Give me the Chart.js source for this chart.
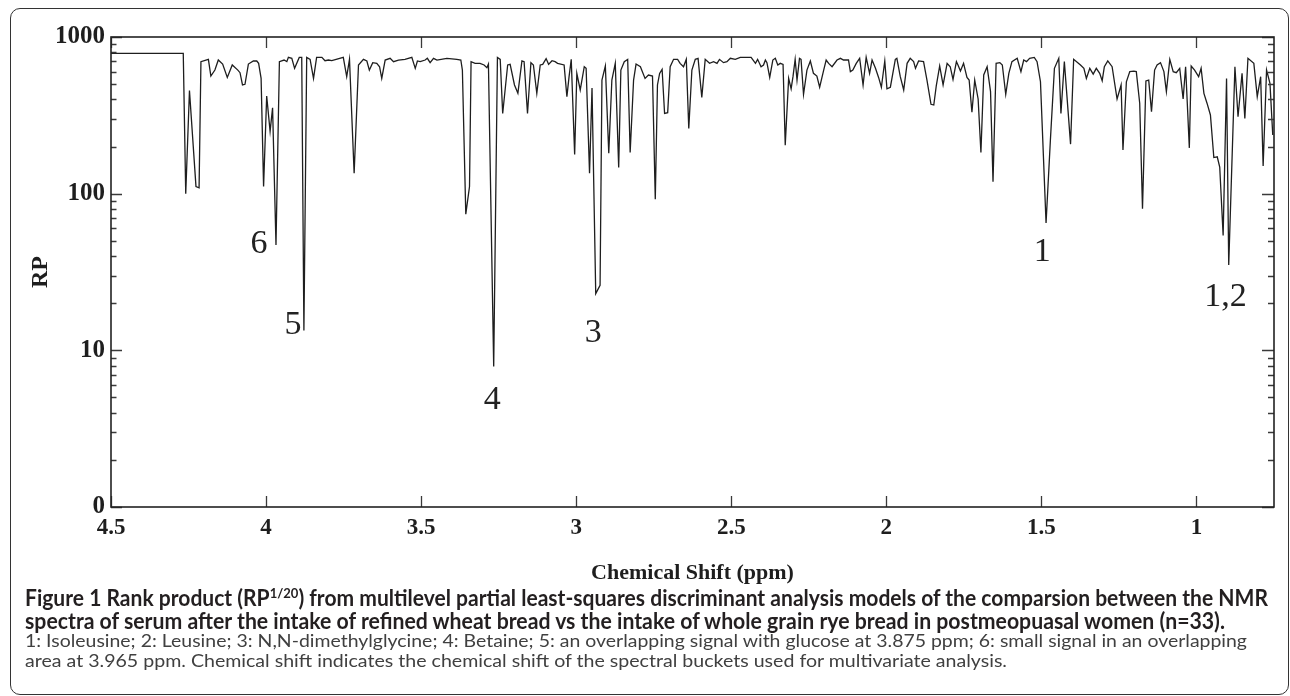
<!DOCTYPE html>
<html>
<head>
<meta charset="utf-8">
<script src="https://cdn.jsdelivr.net/npm/chart.js@4/dist/chart.umd.min.js"></script>
<style>
    html, body { margin: 0; padding: 0; background: #fff; }
    #fig { position: relative; width: 1290px; height: 696px; overflow: hidden; }
    #frame {
        position: absolute; left: 10px; top: 8px; width: 1279px; height: 687px;
        border: 1.5px solid #333; border-radius: 10px; box-sizing: border-box;
    }
    #wrap { position: absolute; left: 0; top: 0; width: 1290px; height: 590px; }
    .cap {
        position: absolute; left: 25px; white-space: nowrap; transform-origin: 0 0;
        font-family: Lato, "Open Sans", sans-serif;
    }
    .b { font-weight: bold; font-size: 22px; line-height: 1.2; color: #231f20; }
    .r { font-size: 18px; line-height: 1.2; color: #404040; }
    sup { font-size: 0.62em; vertical-align: 0.62em; line-height: 0; }
</style>
</head>
<body>
<div id="fig">
    <div id="frame"></div>
    <div id="wrap"><canvas id="chart" width="1290" height="590"></canvas></div>
    <div class="cap b" style="top:585px" data-w="1243"><span>Figure 1</span> Rank product (RP<sup>1/20</sup>) from multilevel partial least-squares discriminant analysis models of the comparsion between the NMR</div>
    <div class="cap b" style="top:608px" data-w="1200">spectra of serum after the intake of refined wheat bread vs the intake of whole grain rye bread in postmeopuasal women (n=33).</div>
    <div class="cap r" style="top:630px" data-w="1222">1: Isoleusine; 2: Leusine; 3: N,N-dimethylglycine; 4: Betaine; 5: an overlapping signal with glucose at 3.875 ppm; 6: small signal in an overlapping</div>
    <div class="cap r" style="top:650px" data-w="982">area at 3.965 ppm. Chemical shift indicates the chemical shift of the spectral buckets used for multivariate analysis.</div>
</div>
<script>
// chemical shift of each traced vertex (ppm), high to low
const ppm = [
    4.500, 4.267, 4.259, 4.247, 4.226, 4.216, 4.210, 4.186, 4.178, 4.165,
    4.154, 4.140, 4.125, 4.109, 4.091, 4.084, 4.076, 4.068, 4.057, 4.041,
    4.030, 4.024, 4.016, 4.008, 3.998, 3.987, 3.979, 3.968, 3.957, 3.942,
    3.933, 3.928, 3.917, 3.908, 3.893, 3.885, 3.878, 3.869, 3.858, 3.847,
    3.837, 3.820, 3.810, 3.799, 3.788, 3.751, 3.740, 3.731, 3.716, 3.702,
    3.686, 3.675, 3.667, 3.656, 3.643, 3.634, 3.627, 3.616, 3.600, 3.589,
    3.573, 3.552, 3.530, 3.519, 3.512,
    3.503, 3.487, 3.480, 3.471, 3.460, 3.449, 3.417, 3.385, 3.372, 3.367,
    3.356, 3.344, 3.339, 3.326, 3.310, 3.297, 3.288, 3.283, 3.266, 3.254,
    3.245, 3.237, 3.221, 3.213, 3.199, 3.188, 3.175, 3.168, 3.157, 3.146,
    3.138, 3.127, 3.116, 3.108, 3.097, 3.089, 3.078, 3.068, 3.060, 3.039,
    3.030, 3.023, 3.016, 3.005, 2.998, 2.987, 2.974, 2.968, 2.957, 2.949,
    2.937, 2.923, 2.917, 2.906, 2.895, 2.885, 2.874, 2.863, 2.856, 2.845,
    2.834, 2.826, 2.815, 2.807, 2.793, 2.778, 2.767, 2.754, 2.745, 2.738,
    2.731, 2.723, 2.715, 2.705, 2.697, 2.686, 2.673, 2.665, 2.654, 2.645,
    2.637, 2.627, 2.616, 2.607, 2.595, 2.584, 2.570, 2.557, 2.546, 2.538,
    2.525, 2.514, 2.503, 2.487, 2.471, 2.436, 2.422, 2.415, 2.404, 2.396,
    2.390, 2.385, 2.376, 2.366, 2.358, 2.350, 2.342, 2.333, 2.326, 2.315,
    2.307, 2.301, 2.294, 2.288, 2.280, 2.275, 2.267, 2.256, 2.245, 2.235,
    2.224, 2.215, 2.202, 2.194, 2.186, 2.175, 2.159, 2.148, 2.138, 2.122,
    2.116, 2.108, 2.097, 2.086, 2.075, 2.065, 2.054, 2.046, 2.035, 2.025,
    2.016, 2.005, 1.998, 1.987, 1.971, 1.966, 1.955, 1.944, 1.933, 1.923,
    1.912, 1.906, 1.896, 1.880, 1.869, 1.856, 1.847, 1.839, 1.828, 1.817,
    1.804, 1.794, 1.785, 1.774, 1.769, 1.761, 1.751, 1.740, 1.733, 1.724,
    1.715, 1.704, 1.695, 1.686, 1.675, 1.664, 1.656, 1.646, 1.634, 1.626,
    1.615, 1.605, 1.595, 1.578, 1.566, 1.557, 1.548, 1.538, 1.523, 1.514,
    1.503, 1.485, 1.471, 1.458, 1.444, 1.437, 1.426, 1.406, 1.396, 1.374,
    1.363, 1.355, 1.344, 1.333, 1.323, 1.312, 1.304, 1.297, 1.286, 1.272,
    1.256, 1.243, 1.237, 1.226, 1.215, 1.202, 1.194, 1.183, 1.174, 1.163,
    1.154, 1.145, 1.135, 1.127, 1.116, 1.105, 1.097, 1.086, 1.075, 1.065,
    1.054, 1.043, 1.035, 1.023, 1.017, 1.006, 0.993, 0.985, 0.976, 0.966,
    0.955, 0.944, 0.933, 0.925, 0.914, 0.903, 0.896, 0.876, 0.866, 0.853,
    0.844, 0.834, 0.815, 0.804, 0.793, 0.785, 0.774, 0.763, 0.754
];

// rank product at each vertex
const rp = [
    786, 786, 100, 455, 111, 109, 696, 720, 563, 615,
    713, 672, 552, 663, 615, 592, 494, 499, 672, 703,
    703, 679, 544, 111, 420, 250, 353, 47, 696, 713,
    696, 741, 731, 631, 741, 741, 13.4, 741, 720, 544,
    741, 741, 706, 713, 706, 741, 558, 720, 135, 663,
    720, 703, 615, 686, 679, 646, 544, 713, 731, 696,
    713, 720, 741, 631, 703,
    696, 713, 731, 686, 731, 713, 731, 720, 713, 615,
    74, 111, 696, 679, 679, 663, 637, 672, 7.9, 741,
    720, 325, 663, 669, 494, 437, 703, 696, 325, 686,
    663, 437, 663, 669, 728, 669, 706, 696, 679, 663,
    416, 558, 720, 178, 586, 459, 646, 631, 135, 472,
    23, 26, 531, 653, 181, 531, 679, 147, 615, 696,
    720, 183, 531, 672, 646, 544, 572, 563, 92, 494,
    586, 622, 325, 329, 646, 720, 720, 679, 646, 720,
    261, 615, 720, 731, 412, 720, 679, 696, 679, 720,
    686, 696, 731, 720, 741, 741, 679, 720, 646, 663,
    713, 686, 552, 713, 731, 663, 679, 669, 204, 544,
    467, 558, 720, 531, 731, 720, 431, 615, 703, 586,
    563, 478, 615, 713, 679, 646, 713, 731, 713, 713,
    601, 615, 679, 731, 494, 741, 586, 713, 631, 552,
    478, 703, 467, 478, 720, 731, 558, 459, 679, 731,
    696, 631, 703, 696, 531, 372, 368, 487, 653, 494,
    679, 646, 536, 696, 663, 606, 679, 552, 531, 331,
    531, 402, 183, 572, 646, 448, 119, 679, 686, 663,
    431, 586, 696, 731, 601, 713, 696, 731, 741, 696,
    518, 65, 220, 631, 731, 325, 696, 207, 720, 663,
    631, 544, 631, 580, 631, 586, 526, 646, 703, 646,
    402, 494, 190, 518, 601, 606, 601, 378, 80, 524,
    531, 334, 615, 663, 686, 601, 448, 720, 601, 592,
    631, 402, 646, 196, 653, 615, 558, 631, 437, 378,
    318, 170, 172, 148, 54, 544, 35, 646, 310, 586,
    302, 731, 679, 416, 558, 150, 615, 506, 237
];

const xTicks = [4.5, 4, 3.5, 3, 2.5, 2, 1.5, 1];
const yTicks = [1, 10, 100, 1000];
const yMinorTicks = [2, 3, 4, 5, 6, 7, 8, 9, 20, 30, 40, 50, 60, 70, 80, 90, 200, 300, 400, 500, 600, 700, 800, 900];

// peak annotations
const peakLabels = ['6', '5', '4', '3', '1', '1,2'];
const peakPpm = [4.023, 3.913, 3.271, 2.945, 1.497, 0.906];
const peakRp = [47.6, 14.5, 4.8, 12.8, 42.3, 21.8];

const SERIF = '"Liberation Serif", "Times New Roman", serif';
const INK = '#1e1e1e';

const frameTicks = {
    id: 'frameTicks',
    afterDraw(chart) {
        const {ctx, chartArea: a, scales: {x, y}} = chart;
        ctx.save();
        ctx.strokeStyle = '#3a3a3a';
        ctx.lineWidth = 1.3;
        ctx.beginPath();
        for (const v of xTicks) {
            const px = Math.round(x.getPixelForValue(v)) + 0.5;
            ctx.moveTo(px, a.bottom); ctx.lineTo(px, a.bottom - 11);
            ctx.moveTo(px, a.top); ctx.lineTo(px, a.top + 11);
        }
        for (const v of yTicks) {
            const py = Math.round(y.getPixelForValue(v)) + 0.5;
            ctx.moveTo(a.left, py); ctx.lineTo(a.left + 11, py);
            ctx.moveTo(a.right, py); ctx.lineTo(a.right - 12, py);
        }
        for (const v of yMinorTicks) {
            const py = Math.round(y.getPixelForValue(v)) + 0.5;
            ctx.moveTo(a.left, py); ctx.lineTo(a.left + 5.5, py);
            ctx.moveTo(a.right, py); ctx.lineTo(a.right - 6, py);
        }
        ctx.stroke();

        ctx.strokeStyle = '#222';
        ctx.lineWidth = 1.6;
        ctx.strokeRect(a.left, a.top, a.right - a.left, a.bottom - a.top);

        ctx.fillStyle = '#222';
        ctx.font = '34px ' + SERIF;
        ctx.textAlign = 'center';
        ctx.textBaseline = 'middle';
        peakLabels.forEach((t, i) => {
            ctx.fillText(t, x.getPixelForValue(peakPpm[i]), y.getPixelForValue(peakRp[i]));
        });
        ctx.restore();
    }
};

new Chart(document.getElementById('chart'), {
    type: 'line',
    data: {
        datasets: [{
            data: ppm.map((v, i) => ({x: v, y: rp[i]})),
            borderColor: INK,
            borderWidth: 1.3,
            pointRadius: 0,
            fill: false,
            tension: 0
        }]
    },
    options: {
        responsive: false,
        animation: false,
        layout: {padding: {top: 37, right: 16, left: 0, bottom: 0}},
        plugins: {legend: {display: false}, tooltip: {enabled: false}},
        scales: {
            x: {
                type: 'linear',
                reverse: true,
                min: 0.75,
                max: 4.5,
                afterBuildTicks: s => { s.ticks = xTicks.map(v => ({value: v})); },
                afterFit: s => { s.height = 83; },
                grid: {display: false, drawTicks: false},
                border: {display: false},
                ticks: {
                    autoSkip: false, maxRotation: 0, padding: 7, color: INK,
                    font: {family: SERIF, size: 23, weight: 'bold'},
                    callback: v => String(v)
                },
                title: {
                    display: true, text: 'Chemical Shift (ppm)', color: INK,
                    font: {family: SERIF, size: 22, weight: 'bold'},
                    padding: {top: 0, bottom: 3}
                }
            },
            y: {
                type: 'logarithmic',
                min: 1,
                max: 1000,
                afterBuildTicks: s => { s.ticks = yTicks.map(v => ({value: v})); },
                afterFit: s => { s.width = 111; },
                grid: {display: false, drawTicks: false},
                border: {display: false},
                ticks: {
                    autoSkip: false, padding: 6, color: INK,
                    font: {family: SERIF, size: 25, weight: 'bold'},
                    callback: v => (v === 1 ? '0' : String(v))
                },
                title: {
                    display: true, text: 'RP', color: INK,
                    font: {family: SERIF, size: 24, weight: 'bold'},
                    padding: {top: 26, bottom: 0}
                }
            }
        }
    },
    plugins: [frameTicks]
});

// squeeze caption lines to the reference widths
document.querySelectorAll('.cap').forEach(el => {
    const w = el.getBoundingClientRect().width;
    el.style.transform = 'scaleX(' + (Number(el.dataset.w) / w) + ')';
});
</script>
</body>
</html>
